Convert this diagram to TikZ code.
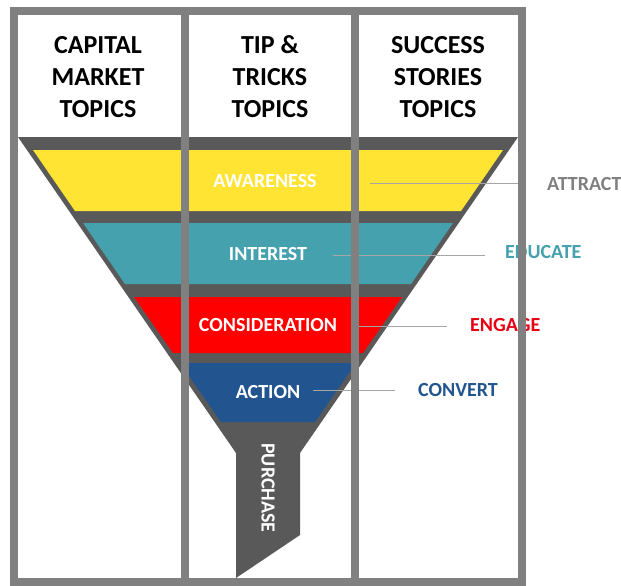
\documentclass[tikz,border=0pt]{standalone}
\usepackage{fontspec}
\setmainfont{Carlito}
\usepackage{tikz}

\definecolor{funnelgray}{HTML}{595959}
\definecolor{framegray}{HTML}{808080}
\definecolor{linegray}{HTML}{A6A6A6}
\definecolor{awayellow}{HTML}{FFE433}
\definecolor{intteal}{HTML}{45A1AE}
\definecolor{conred}{HTML}{FF0000}
\definecolor{engred}{HTML}{E60012}
\definecolor{actblue}{HTML}{22558F}

\begin{document}
\begin{tikzpicture}[x=1pt, y=-1pt,
	header/.style={font=\fontsize{26}{32}\selectfont\bfseries, align=center},
	stage/.style={font=\fontsize{20}{24}\selectfont\bfseries, text=white, inner sep=0pt},
	goal/.style={font=\fontsize{20}{24}\selectfont\bfseries, anchor=west, inner sep=0pt},
	link/.style={linegray, line width=1pt},
	frame/.style={framegray, line width=8pt}]
	\useasboundingbox (0, 0) rectangle (621, 586);
	\fill [white] (0, 0) rectangle (621, 586);
	% headers
	\node [header] (capital) at (98, 77) {CAPITAL\\MARKET\\TOPICS};
	\node [header] (tips) at (270, 77) {TIP \&\\TRICKS\\TOPICS};
	\node [header] (success) at (438, 77) {SUCCESS\\STORIES\\TOPICS};
	% funnel with spout
	\fill [funnelgray] (18, 137) -- (518, 137) -- (300, 453) -- (300, 535) -- (236, 578) -- (236, 453) -- cycle;
	\fill [awayellow] (33, 150) -- (503, 150) -- (461, 211) -- (75, 211) -- cycle;
	\fill [intteal] (83, 223) -- (453, 223) -- (411, 284) -- (125, 284) -- cycle;
	\fill [conred] (134, 297) -- (402, 297) -- (363, 353) -- (173, 353) -- cycle;
	\fill [actblue] (180, 363) -- (356, 363) -- (315, 422) -- (221, 422) -- cycle;
	\node [stage] (awareness) at (265, 181) {AWARENESS};
	\node [stage] (interest) at (268, 254) {INTEREST};
	\node [stage] (consideration) at (268, 325) {CONSIDERATION};
	\node [stage] (action) at (268, 392) {ACTION};
	\node [stage, rotate=-90] (purchase) at (268, 488) {PURCHASE};
	% goals on the right
	\node [goal, text=framegray] (attract) at (547, 184) {ATTRACT};
	\node [goal, text=intteal] (educate) at (505, 252) {EDUCATE};
	\node [goal, text=engred] (engage) at (470, 325) {ENGAGE};
	\node [goal, text=actblue] (convert) at (418, 390) {CONVERT};
	\coordinate (awa-in) at (370, 183);
	\coordinate (awa-out) at (520, 183);
	\coordinate (int-in) at (333, 255);
	\coordinate (int-out) at (485, 255);
	\coordinate (con-in) at (358, 326);
	\coordinate (con-out) at (447, 326);
	\coordinate (act-in) at (313, 390);
	\coordinate (act-out) at (395, 390);
	\draw [link] (awa-in) -- (awa-out);
	\draw [link] (int-in) -- (int-out);
	\draw [link] (con-in) -- (con-out);
	\draw [link] (act-in) -- (act-out);
	% columns
	\draw [frame] (14, 11) rectangle (522, 582);
	\draw [frame] (185, 11) -- (185, 582);
	\draw [frame] (355, 11) -- (355, 582);
\end{tikzpicture}
\end{document}
